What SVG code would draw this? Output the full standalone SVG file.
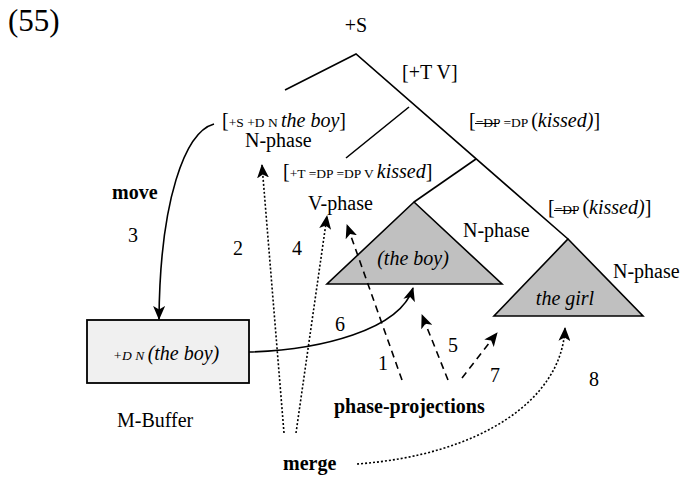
<svg xmlns="http://www.w3.org/2000/svg" width="680" height="479" viewBox="0 0 680 479">
<style>
text{font-family:"Liberation Serif","Times New Roman",serif;fill:#000}
.n{font-size:20px}
.s{font-size:13.5px}
.i{font-style:italic}
.b{font-weight:bold;font-size:20px}
.tree{stroke:#000;stroke-width:1.6;fill:none}
.tri{fill:#c0c0c0;stroke:#000;stroke-width:1.6}
.solid{stroke:#000;stroke-width:1.6;fill:none}
.dash{stroke:#000;stroke-width:1.6;fill:none;stroke-dasharray:7 5}
.dot{stroke:#000;stroke-width:1.6;fill:none;stroke-dasharray:2 2}
</style>
<defs>
<marker id="ah" viewBox="0 0 14 12" refX="13" refY="6" markerWidth="14" markerHeight="12" markerUnits="userSpaceOnUse" orient="auto">
<path d="M0,0 L14,6 L0,12 L3.5,6 Z" fill="#000"/>
</marker>
</defs>
<rect width="680" height="479" fill="#fff"/>
<text x="8" y="31" style="font-size:31px">(55)</text>
<g id="tree">
<path class="tree" d="M285,90 L356,54 L568,239"/>
<path class="tree" d="M409,107 L346,158"/>
<path class="tree" d="M476,159 L414,202"/>
</g>
<g id="root"><text class="n" x="356" y="32" text-anchor="middle">+S</text></g>
<g id="tv"><text class="n" x="402" y="79">[+T V]</text></g>
<g id="nphase-top">
<text x="222" y="127"><tspan class="n">[</tspan><tspan class="s">+S +D N </tspan><tspan class="n i">the boy</tspan><tspan class="n">]</tspan></text>
<text class="n" x="245" y="147">N-phase</text>
</g>
<g id="dpdp">
<text x="469" y="127"><tspan class="n">[</tspan><tspan class="s">=DP =DP </tspan><tspan class="n">(</tspan><tspan class="n i">kissed)</tspan><tspan class="n">]</tspan></text>
<line x1="475" y1="123.5" x2="499" y2="123.5" stroke="#000" stroke-width="1"/>
</g>
<g id="vphase">
<text x="283" y="178"><tspan class="n">[</tspan><tspan class="s">+T =DP =DP V </tspan><tspan class="n i">kissed</tspan><tspan class="n">]</tspan></text>
<text class="n" x="308" y="210">V-phase</text>
</g>
<g id="dp">
<text x="548" y="214"><tspan class="n">[</tspan><tspan class="s">=DP </tspan><tspan class="n">(</tspan><tspan class="n i">kissed)</tspan><tspan class="n">]</tspan></text>
<line x1="554" y1="210.5" x2="578" y2="210.5" stroke="#000" stroke-width="1"/>
</g>
<g id="boy">
<path class="tri" d="M414,202 L502,284 L327,284 Z"/>
<text class="n i" x="413" y="265" text-anchor="middle">(the boy)</text>
<text class="n" x="463" y="237">N-phase</text>
</g>
<g id="girl">
<path class="tri" d="M568,239 L643,316 L494,316 Z"/>
<text class="n i" x="565" y="305" text-anchor="middle">the girl</text>
<text class="n" x="613" y="278">N-phase</text>
</g>
<g id="mbuffer">
<rect x="87" y="320" width="162" height="63" fill="#f0f0f0" stroke="#000" stroke-width="1.8"/>
<text x="113" y="360"><tspan class="s i">+D N </tspan><tspan class="n i">(the boy)</tspan></text>
<text class="n" x="117" y="427">M-Buffer</text>
</g>
<g id="labels">
<text class="b" x="112" y="199">move</text>
<text class="n" x="128" y="242">3</text>
<text class="n" x="233" y="255">2</text>
<text class="n" x="292" y="255">4</text>
<text class="n" x="335" y="331">6</text>
<text class="n" x="378" y="370">1</text>
<text class="n" x="448" y="352">5</text>
<text class="n" x="490" y="382">7</text>
<text class="n" x="589" y="386">8</text>
<text class="b" x="334" y="413">phase-projections</text>
<text class="b" x="283" y="470">merge</text>
</g>
<g id="connectors">
<path class="solid" d="M214,124 C185,132 160,200 159,319" marker-end="url(#ah)"/>
<path class="solid" d="M249,352 C320,350 400,330 413,288" marker-end="url(#ah)"/>
<path class="dot" d="M284,433 L262,165" marker-end="url(#ah)"/>
<path class="dot" d="M296,433 L327,216" marker-end="url(#ah)"/>
<path class="dot" d="M357,464 C480,455 562,400 565,328" marker-end="url(#ah)"/>
<path class="dash" d="M402,380 L347,225" marker-end="url(#ah)"/>
<path class="dash" d="M448,380 L422,315" marker-end="url(#ah)"/>
<path class="dash" d="M462,378 L497,333" marker-end="url(#ah)"/>
</g>
</svg>
